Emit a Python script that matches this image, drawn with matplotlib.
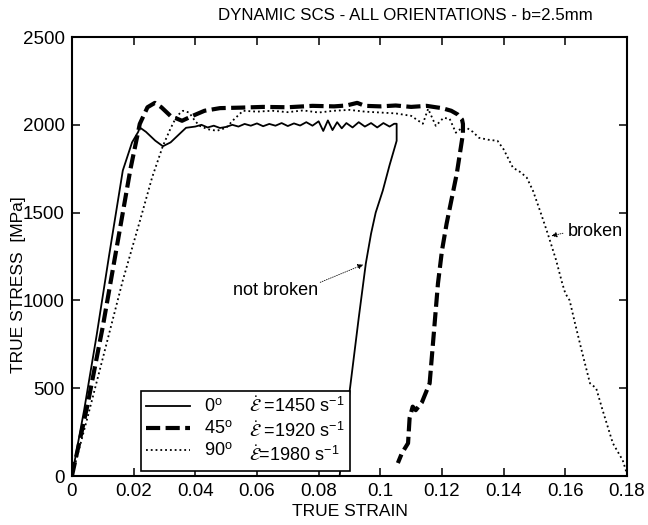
import matplotlib
matplotlib.use('Agg')
from matplotlib import pyplot as plt
from matplotlib.lines import Line2D

plt.rcParams['font.family'] = ['Liberation Sans', 'DejaVu Sans']
plt.rcParams['mathtext.fontset'] = 'stix'

# 0 deg, eps_dot = 1450 1/s  (not broken, unloading)
strain_0 = [0, 0.004, 0.008, 0.012, 0.0165, 0.0195, 0.0215, 0.022, 0.024, 0.027, 0.0295,
            0.032, 0.035, 0.037, 0.040, 0.042, 0.044, 0.046, 0.048, 0.050, 0.052, 0.054,
            0.056, 0.058, 0.060, 0.062, 0.064, 0.066, 0.068, 0.070, 0.072, 0.074, 0.076,
            0.078, 0.080, 0.0815, 0.083, 0.0845, 0.086, 0.0875, 0.089, 0.091, 0.093, 0.095,
            0.097, 0.099, 0.101, 0.103, 0.1045, 0.1053, 0.1053, 0.103, 0.1008, 0.0985,
            0.097, 0.0953, 0.093, 0.0901, 0.0868]
stress_0 = [0, 380, 800, 1250, 1740, 1900, 1960, 1985, 1960, 1910, 1878,
            1900, 1950, 1983, 1990, 2000, 1985, 1995, 1982, 1988, 2000, 1990,
            2005, 1995, 2008, 1992, 2005, 1995, 2010, 1993, 2008, 1996, 2015,
            1995, 2020, 1965, 2025, 1970, 2015, 1980, 2010, 1985, 2015, 1990,
            2010, 1985, 2010, 1990, 2006, 2006, 1909, 1770, 1625, 1500,
            1380, 1210, 900, 489, 0]

# 45 deg, eps_dot = 1920 1/s  (not broken, unloading)
strain_45 = [0, 0.005, 0.010, 0.015, 0.019, 0.022, 0.0245, 0.0269, 0.029, 0.032, 0.0357,
             0.039, 0.043, 0.048, 0.055, 0.062, 0.070, 0.078, 0.085, 0.089, 0.0925, 0.095,
             0.100, 0.105, 0.110, 0.115, 0.118, 0.120, 0.123, 0.125, 0.1265, 0.1268,
             0.1268, 0.1248, 0.1215, 0.120, 0.1187, 0.116, 0.1135, 0.1115, 0.1105, 0.1095,
             0.109, 0.107, 0.1057]
stress_45 = [0, 400, 850, 1350, 1750, 2005, 2100, 2125, 2100, 2050, 2023,
             2050, 2080, 2095, 2098, 2102, 2100, 2108, 2105, 2110, 2125, 2108,
             2105, 2110, 2102, 2108, 2100, 2095, 2080, 2060, 2030, 2005,
             1949, 1722, 1437, 1284, 1097, 528, 420, 375, 395, 330,
             187, 130, 74]

# 90 deg, eps_dot = 1980 1/s  (broken)
strain_90 = [0, 0.005, 0.010, 0.0165, 0.022, 0.026, 0.0295, 0.032, 0.034, 0.036, 0.038,
             0.040, 0.0415, 0.044, 0.047, 0.050, 0.0525, 0.0555, 0.060, 0.065, 0.070,
             0.075, 0.080, 0.085, 0.090, 0.095, 0.100, 0.105, 0.110, 0.1138, 0.1155,
             0.118, 0.1205, 0.1225, 0.1245, 0.1265, 0.128, 0.130, 0.132, 0.135, 0.138,
             0.140, 0.143, 0.1455, 0.1475, 0.1495, 0.152, 0.1543, 0.157, 0.159, 0.160,
             0.1614, 0.163, 0.1655, 0.168, 0.170, 0.172, 0.1754, 0.1786, 0.1795, 0.180]
stress_90 = [0, 330, 670, 1114, 1450, 1700, 1880, 1980, 2050, 2080, 2070,
             2020, 1994, 1975, 1966, 1983, 2030, 2080, 2075, 2080, 2072,
             2082, 2070, 2080, 2085, 2075, 2070, 2065, 2051, 2006, 2091,
             1994, 2040, 2034, 1955, 1983, 1983, 1960, 1926, 1915, 1909,
             1860, 1756, 1730, 1699, 1625, 1500, 1380, 1230, 1097, 1040,
             1000, 880, 700, 528, 500, 380, 187, 90, 40, 10]

orient_labels = [r'0$^{\mathregular{o}}$', r'45$^{\mathregular{o}}$', r'90$^{\mathregular{o}}$']
rate_labels = [r'$\dot{\mathcal{E}}$ =1450 s$^{\mathregular{-1}}$',
               r'$\dot{\mathcal{E}}$ =1920 s$^{\mathregular{-1}}$',
               r'$\dot{\mathcal{E}}$=1980 s$^{\mathregular{-1}}$']

fig = plt.figure(figsize=(6.48, 5.25), dpi=100)
ax = fig.add_axes([0.111, 0.0933, 0.8566, 0.8362])

l0, = ax.plot(strain_0, stress_0, color='k', lw=1.3, ls='-')
l45, = ax.plot(strain_45, stress_45, color='k', lw=3.0, dashes=(3.4, 1.3))
l90, = ax.plot(strain_90, stress_90, color='k', lw=1.3, ls=':')

ax.set_xlim(0, 0.18)
ax.set_ylim(0, 2500)
ax.set_xticks([0, 0.02, 0.04, 0.06, 0.08, 0.1, 0.12, 0.14, 0.16, 0.18])
ax.set_xticklabels(['0', '0.02', '0.04', '0.06', '0.08', '0.1', '0.12', '0.14', '0.16', '0.18'])
ax.set_yticks([0, 500, 1000, 1500, 2000, 2500])
ax.tick_params(direction='in', top=True, right=True, length=6, width=1.1, labelsize=13.5, pad=5)
for s in ax.spines.values():
    s.set_linewidth(1.5)

blank = [Line2D([], [], color='none') for _ in range(3)]
leg = ax.legend([l0, l45, l90] + blank, orient_labels + rate_labels, ncol=2,
                loc='lower left', bbox_to_anchor=(0.124, 0.012), fontsize=13,
                frameon=True, fancybox=False, edgecolor='k', framealpha=1,
                handlelength=2.4, handletextpad=0.8, columnspacing=-2.3,
                labelspacing=0.25, borderpad=0.3, borderaxespad=0)
leg.get_frame().set_linewidth(1.2)

arrow = dict(arrowstyle='-|>', lw=0.6, ls=':', color='k', mutation_scale=8)
ax.text(0.0661, 1057, 'not broken', fontsize=13, ha='center', va='center')
ax.annotate('', xy=(0.0953, 1210), xytext=(0.0797, 1097), arrowprops=arrow)
ax.text(0.1608, 1392, 'broken', fontsize=13, ha='left', va='center')
ax.annotate('', xy=(0.1546, 1364), xytext=(0.1601, 1386), arrowprops=arrow)

fig.text(0.625, 0.971, 'DYNAMIC SCS - ALL ORIENTATIONS - b=2.5mm', fontsize=12.2,
         ha='center', va='center')
fig.text(0.54, 0.025, 'TRUE STRAIN', fontsize=12.5, ha='center', va='center')
fig.text(0.028, 0.457, 'TRUE STRESS  [MPa]', fontsize=12.5, ha='center', va='center',
         rotation=90)

fig.savefig('out.png', dpi=100)
